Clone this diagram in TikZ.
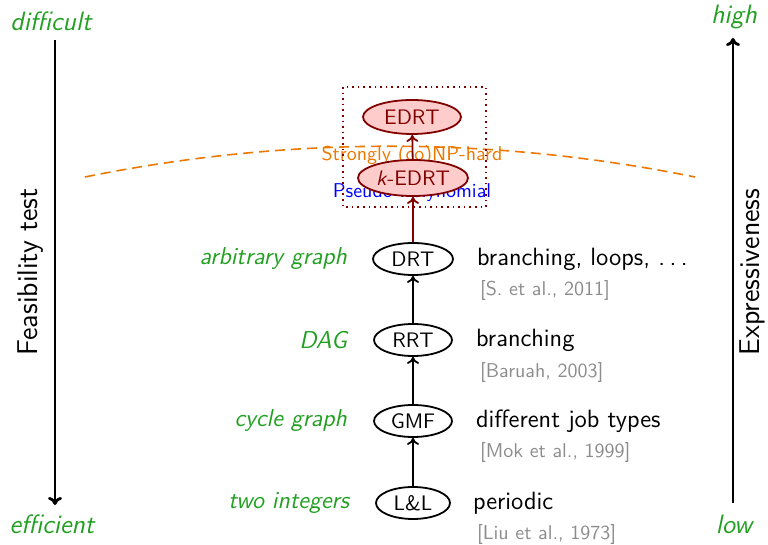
\documentclass[tikz,border=0pt]{standalone}
\usetikzlibrary{arrows.meta,shapes.geometric}
\definecolor{lblgreen}{RGB}{34,160,34}
\definecolor{edrtred}{RGB}{128,0,0}
\definecolor{edrtfill}{RGB}{255,204,204}
\definecolor{citegray}{RGB}{140,140,140}
\definecolor{hardorange}{RGB}{235,120,0}
\newcommand{\sfsize}[1]{\sffamily\fontsize{#1}{#1}\selectfont}
\begin{document}
\begin{tikzpicture}[x=0.5pt,y=-0.5pt,
  font=\sfsize{10},
  model/.style={ellipse, draw, line width=0.9pt, inner sep=0pt,
    minimum width=39pt, minimum height=16pt, font=\sfsize{10.5}},
  ext/.style={model, draw=edrtred, fill=edrtfill, text=edrtred},
  uparrow/.style={-{To[length=3.5pt,width=6pt]}, line width=0.9pt},
  kind/.style={text=lblgreen, font=\sfsize{12.2}\itshape, anchor=east},
  feat/.style={anchor=west, font=\sfsize{12.5}},
  cite/.style={anchor=west, text=citegray, font=\sfsize{10}},
  axis/.style={line width=1.4pt},
  axislbl/.style={text=lblgreen, font=\sfsize{13.3}\itshape},
  axisname/.style={rotate=90, font=\sfsize{14.3}}]
\useasboundingbox (0,0) rectangle (768,545);

% complexity boundary
\draw[hardorange, dashed, dash pattern=on 5pt off 3pt, line width=0.8pt]
  (85,177) .. controls (288,136) and (492,136) .. (695,177);
\node[text=hardorange] (hard) at (412,156) {Strongly (co)NP-hard};
\node[text=blue] (pseudo) at (412,193) {Pseudo-Polynomial};

% task models
\node[ext, minimum width=49pt, minimum height=17pt] (edrt) at (412,117) {EDRT};
\node[ext, minimum width=55pt, minimum height=18pt] (kedrt) at (413,178) {\textit{k}-EDRT};
\node[model, minimum width=40pt] (drt) at (413,259) {DRT};
\node[model] (rrt) at (413,340) {RRT};
\node[model] (gmf) at (413,421) {GMF};
\node[model, minimum width=37pt] (ll) at (413,503) {L\&L};

\draw[edrtred, dotted, line width=0.8pt] (343,87) rectangle (486,207);

\draw[uparrow] (ll) -- (gmf);
\draw[uparrow] (gmf) -- (rrt);
\draw[uparrow] (rrt) -- (drt);
\draw[uparrow, edrtred] (drt) -- (kedrt);
\draw[uparrow, edrtred] (kedrt) -- (edrt);

% structure of each model
\node[kind] (k1) at (354,259) {arbitrary graph};
\node[kind] (k2) at (354,340) {DAG};
\node[kind] (k3) at (354,421) {cycle graph};
\node[kind] (k4) at (356,503) {two integers};

% features and references
\node[feat] (f1) at (470,259) {branching, loops, .\hspace{0.18em}.\hspace{0.18em}.};
\node[cite] (c1) at (473,291) {[S. et al., 2011]};
\node[feat] (f2) at (469,340) {branching};
\node[cite] (c2) at (473,373) {[Baruah, 2003]};
\node[feat] (f3) at (469,421) {different job types};
\node[cite] (c3) at (473,453) {[Mok et al., 1999]};
\node[feat] (f4) at (466,503) {periodic};
\node[cite] (c4) at (470,535) {[Liu et al., 1973]};

% feasibility axis
\node[axislbl] (diff) at (51,21) {difficult};
\node[axislbl] (eff) at (52,524) {efficient};
\coordinate (ftop) at (55,40);
\coordinate (fbot) at (55,505);
\draw[axis, -{To[length=4pt,width=7pt]}] (ftop) -- (fbot);
\node[axisname] (feas) at (30,272) {Feasibility test};

% expressiveness axis
\node[axislbl] (high) at (734,17) {high};
\node[axislbl] (low) at (734,524) {low};
\coordinate (etop) at (733,38);
\coordinate (ebot) at (733,503);
\draw[axis, -{To[length=4pt,width=7pt]}] (ebot) -- (etop);
\node[axisname] (expr) at (752,272) {Expressiveness};
\end{tikzpicture}
\end{document}
